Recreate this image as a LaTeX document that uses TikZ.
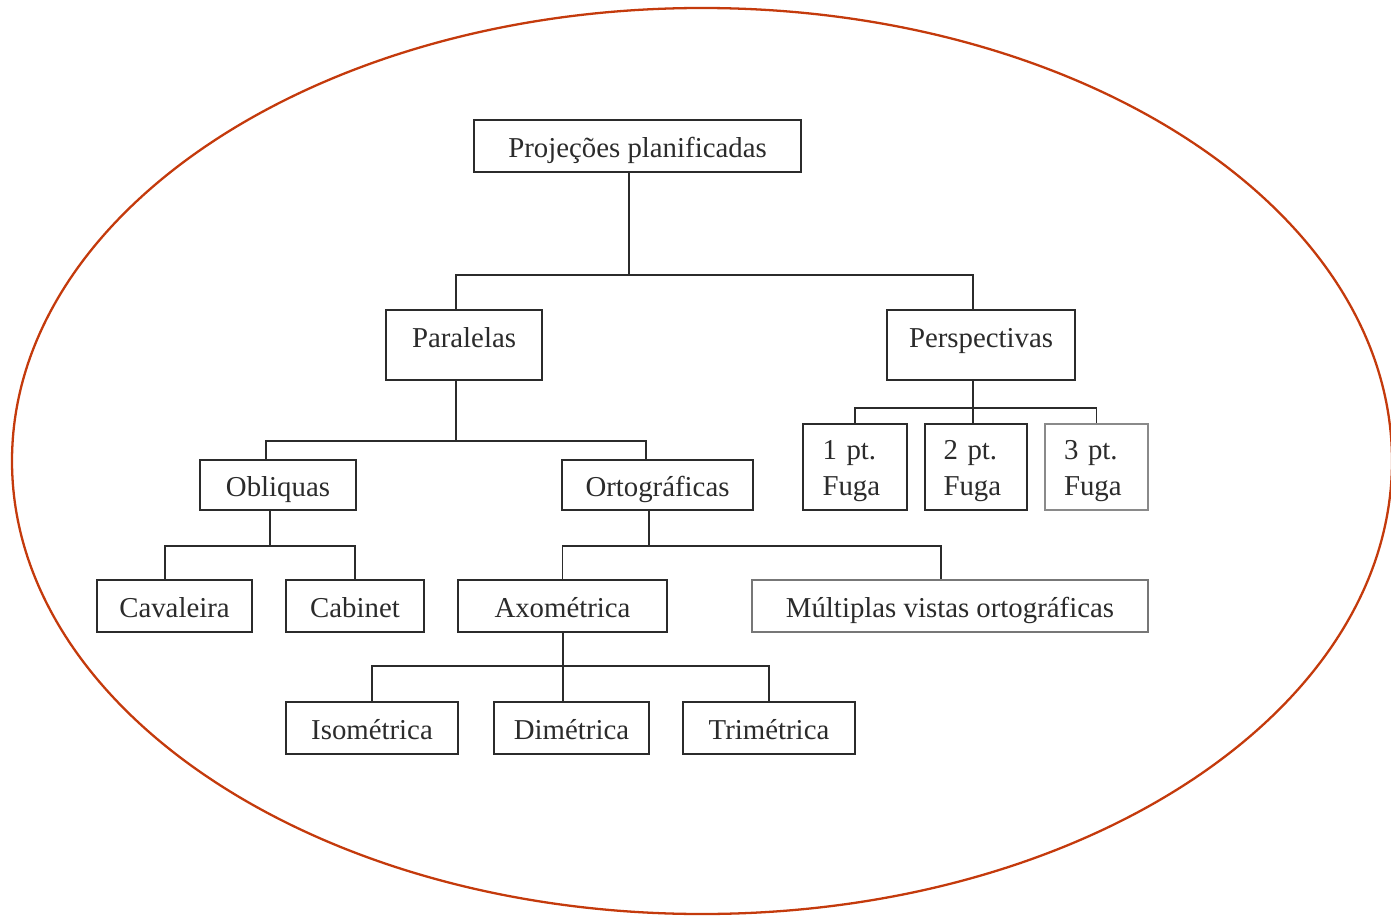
\documentclass[tikz,border=0pt]{standalone}
\usepackage{fontspec}
\setmainfont{Liberation Serif}
\usetikzlibrary{calc}
\definecolor{ink}{HTML}{2B2B2B}
\definecolor{soft}{HTML}{8A8A8A}
\definecolor{rim}{HTML}{C43A0C}
\tikzset{
  every node/.style={font=\fontsize{16.4}{20.5}\selectfont,text=ink},
  box/.style={draw=ink,line width=.8pt,inner sep=0pt,minimum height=1.04cm,text height=0.46cm,text depth=0cm},
  tallbox/.style={box,minimum height=1.4cm,text depth=0.36cm},
  fuga/.style={draw=ink,line width=.8pt,inner sep=0pt,minimum height=1.72cm,text width=1.3cm,align=left,text height=0.55cm},
  wire/.style={draw=ink,line width=.8pt},
}

\begin{document}
\begin{tikzpicture}[x=0.02cm,y=-0.02cm]
\path[use as bounding box] (0,0) rectangle (1391,915);
\fill[white] (0,0) rectangle (1391,915);
% outer ellipse
\draw[rim,line width=1.3pt] (702,461) ellipse [x radius=690,y radius=453];
% boxes of the tree
\node[box,minimum width=6.54cm] (top) at (637.5,146) {Projeções planificadas};
\node[tallbox,minimum width=3.12cm] (par) at (464,345) {Paralelas};
\node[tallbox,minimum width=3.76cm] (per) at (981,345) {Perspectivas};
\node[box,minimum width=3.12cm,minimum height=1cm] (obl) at (278,485) {Obliquas};
\node[box,minimum width=3.82cm,minimum height=1cm] (ort) at (657.5,485) {Ortográficas};
\node[box,minimum width=3.1cm] (cav) at (174.5,606) {Cavaleira};
\node[box,minimum width=2.76cm] (cab) at (355,606) {Cabinet};
\node[box,minimum width=4.18cm] (axo) at (562.5,606) {Axométrica};
\node[box,draw=soft!80!ink,minimum width=7.92cm] (mul) at (950,606) {Múltiplas vistas ortográficas};
\node[box,minimum width=3.44cm] (iso) at (372,728) {Isométrica};
\node[box,minimum width=3.1cm] (dim) at (571.5,728) {Dimétrica};
\node[box,minimum width=3.44cm] (tri) at (769,728) {Trimétrica};
\node[fuga,minimum width=2.08cm] (f1) at (855,467) {1 pt.\\Fuga};
\node[fuga,minimum width=2.04cm] (f2) at (976,467) {2 pt.\\Fuga};
\node[fuga,draw=soft,minimum width=2.06cm] (f3) at (1096.5,467) {3 pt.\\Fuga};
% junctions
\coordinate (j0) at (629,275);
\coordinate (j1) at (456,441);
\coordinate (j2) at (270,546);
\coordinate (j3) at (649,546);
\coordinate (j4) at (563,666);
\coordinate (j5) at (973,408);
% connectors
\draw[wire] (j0 |- top.south) -- (j0);
\draw[wire] ($(par.north)+(-8,0)$) |- (j0) -| ($(per.north)+(-8,0)$);
\draw[wire] (j1 |- par.south) -- (j1);
\draw[wire] ($(obl.north)+(-12,0)$) |- (j1) -| ($(ort.north)+(-11.5,0)$);
\draw[wire] (j2 |- obl.south) -- (j2);
\draw[wire] ($(cav.north)+(-9.5,0)$) |- (j2) -| (cab.north);
\draw[wire] (j3 |- ort.south) -- (j3);
\draw[wire] (axo.north) |- (j3) -| ($(mul.north)+(-9,0)$);
\draw[wire] (j4 |- axo.south) -- (j4);
\draw[wire] (iso.north) |- (j4) -| (tri.north);
\draw[wire] (j4) -- ($(dim.north)+(-8.5,0)$);
\draw[wire] (j5 |- per.south) -- (j5);
\draw[wire] (f1.north) |- (j5) -| (f3.north);
\draw[wire] (j5) -- ($(f2.north)+(-3,0)$);
\end{tikzpicture}
\end{document}
